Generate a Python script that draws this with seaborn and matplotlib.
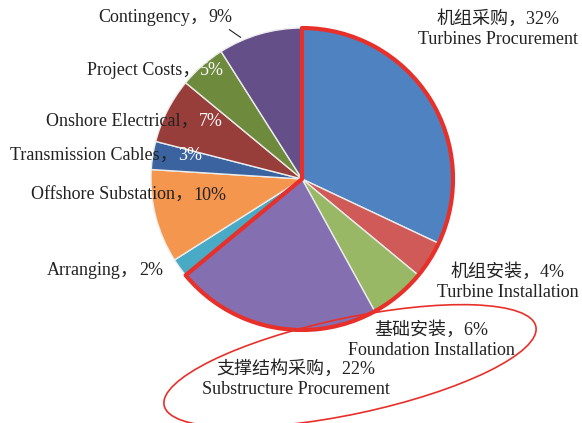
import numpy as np
import matplotlib
matplotlib.use("Agg")
import matplotlib.pyplot as plt
import seaborn as sns
from matplotlib.patches import Wedge, Ellipse

# données : répartition des coûts (sens horaire depuis le haut)
names_en = ["Turbines Procurement", "Turbine Installation", "Foundation Installation",
            "Substructure Procurement", "Arranging", "Offshore Substation",
            "Transmission Cables", "Onshore Electrical", "Project Costs", "Contingency"]
names_zh = ["机组采购", "机组安装", "基础安装", "支撑结构采购",
            None, None, None, None, None, None]
shares = [32, 4, 6, 22, 2, 10, 3, 7, 5, 9]
colors = ["#4F82C0", "#D05A58", "#98B866", "#8470B0", "#48AAC4",
          "#F5964E", "#3A63A0", "#983E3A", "#6E8B3D", "#654F88"]
pct_white = [False, False, False, False, False, False, True, True, True, False]

sns.set_theme(style="white")
plt.rcParams["font.family"] = ["Liberation Serif", "Noto Sans CJK SC"]

fig = plt.figure(figsize=(5.82, 4.23), dpi=100)
ax = fig.add_axes([0, 0, 1, 1])

H = 423
cx, cy, r = 302, H - 179, 151

wedges, _ = ax.pie(shares, colors=colors, startangle=90, counterclock=False,
                   center=(cx, cy), radius=r,
                   wedgeprops=dict(edgecolor="#ececec", linewidth=1))

# contour rouge autour des 4 premiers postes (64 %)
frac = sum(shares[:4]) / sum(shares)
ax.add_patch(Wedge((cx, cy), r, 90 - frac * 360, 90, fill=False,
                   edgecolor="#E8302A", linewidth=3, joinstyle="round", zorder=5))

# ellipse rouge autour des étiquettes du bas
ax.add_patch(Ellipse((350, H - 366), 380, 96, angle=12, fill=False,
                     edgecolor="#E8302A", linewidth=1.2, zorder=5))

fs = 13

# étiquettes à gauche : (x de séparation, y)
left_pos = {4: (139, 270), 5: (193, 195), 6: (178, 155), 7: (199, 121),
            8: (200, 70), 9: (208, 17)}
for i, (x, y) in left_pos.items():
    ax.text(x, H - y, names_en[i] + "，", ha="right", va="center", fontsize=fs,
            color="#222222", zorder=6)
    ax.text(x, H - y, f"{shares[i]}%", ha="left", va="center", fontsize=fs,
            color="white" if pct_white[i] else "#222222", zorder=6)

# trait de rappel pour Contingency
ax.annotate("", xy=(243, H - 39), xytext=(227, H - 28),
            arrowprops=dict(arrowstyle="-", color="#222222", lw=0.8))

# étiquettes à droite (chinois + anglais)
right_pos = {0: (498, 19), 1: (508, 272), 2: (431, 330), 3: (296, 369)}
for i, (x, y) in right_pos.items():
    ax.text(x, H - y, f"{names_zh[i]}，{shares[i]}%", ha="center", va="center",
            fontsize=fs, color="#222222", zorder=6)
    ax.text(x, H - y - 20, names_en[i], ha="center", va="center",
            fontsize=fs, color="#222222", zorder=6)

ax.set_xlim(0, 582)
ax.set_ylim(0, H)
ax.set_aspect("auto")
ax.axis("off")

plt.savefig("out.png", dpi=100, facecolor="white")
